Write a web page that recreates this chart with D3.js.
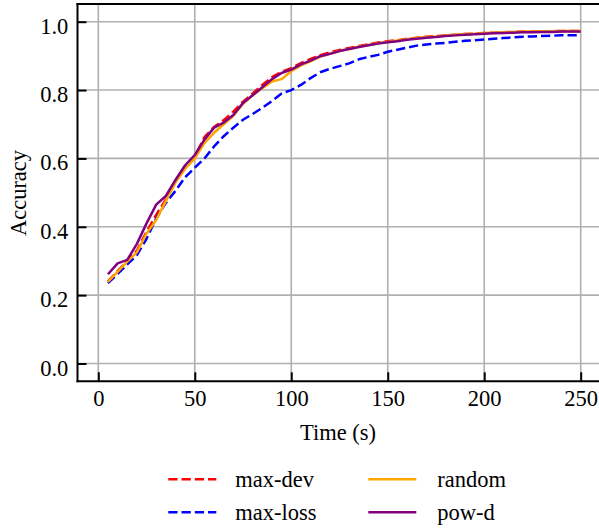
<!DOCTYPE html>
<html><head><meta charset="utf-8">
<script src="https://cdn.jsdelivr.net/npm/d3@7"></script>
<style>body{margin:0;background:#fff}svg{display:block}text{font-family:"Liberation Serif","Times New Roman",serif;fill:#000}</style>
</head><body><svg id="c" width="599" height="530"></svg>
<script>
const times = [5,10,15,20,25,30,35,40,45,50,55,60,65,70,75,80,85,90,95,100,105,110,115,120,125,130,135,140,145,150,155,160,165,170,175,180,185,190,195,200,205,210,215,220,225,230,235,240,245,250];
const maxDev = [0.240,0.270,0.300,0.330,0.385,0.435,0.480,0.535,0.575,0.605,0.662,0.692,0.712,0.737,0.766,0.790,0.815,0.838,0.853,0.864,0.879,0.891,0.902,0.910,0.917,0.923,0.929,0.934,0.939,0.943,0.946,0.950,0.953,0.956,0.958,0.960,0.962,0.964,0.965,0.967,0.968,0.969,0.970,0.971,0.971,0.972,0.972,0.973,0.973,0.973];
const maxLoss = [0.235,0.262,0.290,0.317,0.365,0.425,0.470,0.505,0.545,0.573,0.600,0.635,0.665,0.690,0.713,0.730,0.748,0.768,0.790,0.800,0.815,0.835,0.852,0.862,0.870,0.878,0.890,0.897,0.903,0.912,0.918,0.924,0.930,0.933,0.936,0.938,0.941,0.944,0.946,0.948,0.950,0.952,0.954,0.956,0.957,0.958,0.959,0.960,0.960,0.961];
const randomSel = [0.239,0.268,0.298,0.325,0.380,0.420,0.475,0.530,0.570,0.600,0.645,0.675,0.700,0.725,0.760,0.785,0.805,0.825,0.832,0.855,0.872,0.884,0.898,0.906,0.914,0.920,0.927,0.932,0.937,0.941,0.945,0.949,0.952,0.955,0.957,0.960,0.962,0.964,0.965,0.967,0.968,0.969,0.970,0.971,0.971,0.972,0.972,0.973,0.973,0.973];
const powD = [0.261,0.293,0.303,0.350,0.410,0.465,0.490,0.537,0.580,0.610,0.655,0.690,0.705,0.727,0.762,0.785,0.808,0.832,0.850,0.860,0.875,0.886,0.899,0.906,0.914,0.920,0.926,0.931,0.936,0.940,0.943,0.947,0.950,0.953,0.955,0.958,0.960,0.962,0.963,0.965,0.966,0.967,0.968,0.969,0.969,0.970,0.970,0.971,0.971,0.971];
const seriesNames = ["max-dev","max-loss","random","pow-d"];
const seriesColors = ["#ff0000","#0000ff","#ffa500","#800080"];
const seriesDashed = [true,true,false,false];
const xTicks = [0,50,100,150,200,250];
const yTicks = [0.0,0.2,0.4,0.6,0.8,1.0];

const svg = d3.select("#c");
const L = 77.5, R = 600, T = 4, B = 381.3;
const x = d3.scaleLinear().domain([0,250]).range([98.3,580.7]);
const y = d3.scaleLinear().domain([0,1]).range([363.5,21.7]);

// grid
const g = svg.append("g");
g.selectAll(".gx").data(xTicks).join("line").attr("x1",d=>x(d)).attr("x2",d=>x(d)).attr("y1",T).attr("y2",B).attr("stroke","#b0b0b0").attr("stroke-width",1.6);
g.selectAll(".gy").data(yTicks).join("line").attr("y1",d=>y(d)).attr("y2",d=>y(d)).attr("x1",L).attr("x2",R).attr("stroke","#b0b0b0").attr("stroke-width",1.6);

// lines
const allSeries = [maxDev,maxLoss,randomSel,powD];
const line = d3.line().x((d,i)=>x(times[i])).y(d=>y(d));
const clip = svg.append("clipPath").attr("id","pc").append("rect").attr("x",L).attr("y",T).attr("width",R-L).attr("height",B-T);
allSeries.forEach((s,k)=>{
  svg.append("path").attr("d",line(s)).attr("fill","none").attr("stroke",seriesColors[k]).attr("stroke-width",2.5)
    .attr("stroke-dasharray",seriesDashed[k]?"9.25,4":null).attr("stroke-linejoin","round").attr("clip-path","url(#pc)");
});

// axes
const xa = d3.axisBottom(x).tickValues(xTicks).tickSize(-9).tickPadding(0).tickFormat(d3.format("d"));
const ya = d3.axisLeft(y).tickValues(yTicks).tickSize(-9).tickPadding(0).tickFormat(d3.format(".1f"));
const gx = svg.append("g").attr("transform",`translate(0,${B})`).call(xa);
gx.select(".domain").remove();
gx.selectAll(".tick line").attr("stroke","#000").attr("stroke-width",2);
gx.selectAll(".tick text").attr("y",24.3).attr("dy",null).attr("font-size","22.5px").attr("font-family","Liberation Serif").attr("fill","#000");
const gy = svg.append("g").attr("transform",`translate(${L},0)`).call(ya);
gy.select(".domain").remove();
gy.selectAll(".tick line").attr("stroke","#000").attr("stroke-width",2);
gy.selectAll(".tick text").attr("x",-9.2).attr("dy",null).attr("y",11.5).attr("font-size","22.5px").attr("font-family","Liberation Serif").attr("fill","#000");

// spines
svg.append("line").attr("x1",L).attr("x2",L).attr("y1",T-1).attr("y2",B+1).attr("stroke","#000").attr("stroke-width",2);
svg.append("line").attr("x1",L-1).attr("x2",R).attr("y1",B).attr("y2",B).attr("stroke","#000").attr("stroke-width",2);
svg.append("line").attr("x1",L-1).attr("x2",R).attr("y1",T).attr("y2",T).attr("stroke","#000").attr("stroke-width",2);

// labels
svg.append("text").attr("x",338).attr("y",440).attr("text-anchor","middle").attr("font-size","22.5px").text("Time (s)");
svg.append("text").attr("transform","translate(26,193) rotate(-90)").attr("text-anchor","middle").attr("font-size","22.5px").text("Accuracy");

// legend
const legPos = [[168.3,479.3],[168.3,512.3],[368.3,479.3],[368.3,512.3]];
seriesNames.forEach((n,k)=>{
  const [lx,ly] = legPos[k];
  svg.append("line").attr("x1",lx).attr("x2",lx+48).attr("y1",ly).attr("y2",ly).attr("stroke",seriesColors[k]).attr("stroke-width",2.5)
    .attr("stroke-dasharray",seriesDashed[k]?"9.25,4":null);
  svg.append("text").attr("x",lx+(k<2?67:69)).attr("y",ly+7.5).attr("font-size","22.5px").text(n);
});
</script></body></html>
